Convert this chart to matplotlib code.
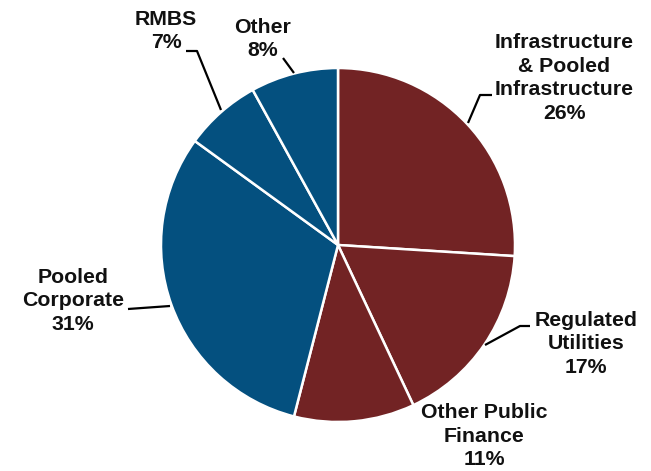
import matplotlib
matplotlib.use("Agg")
import matplotlib.pyplot as plt

# Portfolio composition by sector (percent)
categories = ["Infrastructure\n& Pooled\nInfrastructure", "Regulated\nUtilities",
              "Other Public\nFinance", "Pooled\nCorporate", "RMBS", "Other"]
shares = [26, 17, 11, 31, 7, 8]
colors = ["#722324", "#722324", "#722324", "#04507f", "#04507f", "#04507f"]

W, H = 651, 471
fig = plt.figure(figsize=(W / 100, H / 100), dpi=100)
cx, cy, r = 338, 245, 177
ax = fig.add_axes([(cx - r) / W, (H - cy - r) / H, 2 * r / W, 2 * r / H])

ax.pie(shares, colors=colors, startangle=90, counterclock=False, radius=1,
       wedgeprops=dict(edgecolor="white", linewidth=1.8))
ax.set_xlim(-1, 1)
ax.set_ylim(-1, 1)
ax.set_aspect("equal")
ax.axis("off")


def px(x, y):
    """Pixel position -> data coordinates of the pie axes."""
    return (x - cx) / r, (cy - y) / r


label_pos = [(564, 78), (586, 344), (484, 436), (73, 301), (166, 31), (263, 39)]
for name, val, (lx, ly) in zip(categories, shares, label_pos):
    x, y = px(lx, ly)
    ax.text(x, y, f"{name}\n{val}%", ha="center", va="center",
            fontsize=15.3, fontweight="bold", family="Liberation Sans",
            linespacing=1.3, color="#111111", clip_on=False)

# leader lines
leaders = [
    [(468, 123), (480, 95), (492, 95)],
    [(485, 345), (520, 326), (530, 326)],
    [(128, 309), (170, 306)],
    [(186, 51), (197, 51), (221, 110)],
    [(283, 58), (294, 73)],
]
for pts in leaders:
    xs, ys = zip(*[px(a, b) for a, b in pts])
    ax.plot(xs, ys, color="black", lw=1.6, clip_on=False, solid_capstyle="butt")

fig.savefig("out.png", dpi=100)
